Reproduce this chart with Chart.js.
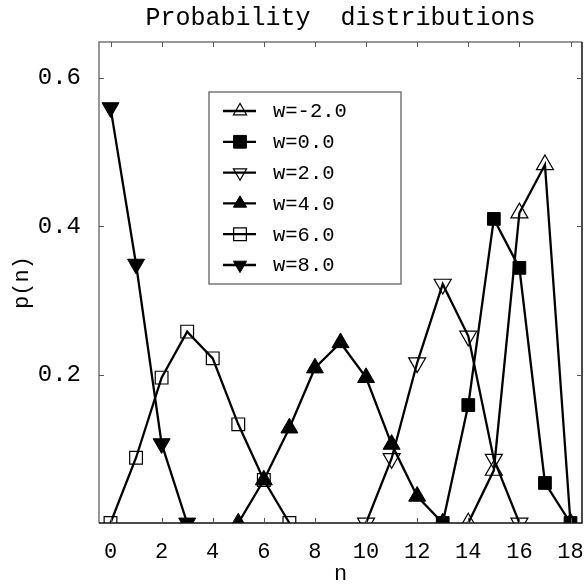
<!DOCTYPE html>
<html lang="en">
<head>
<meta charset="UTF-8">
<title>Probability distributions</title>
<script src="https://cdn.jsdelivr.net/npm/chart.js"></script>
<style>
  body { margin: 0; background: #fff; }
  canvas { display: block; }
</style>
</head>
<body>
<canvas id="grafico" width="584" height="585"></canvas>
<script>
// n = 0..18, null where a series has no point
const nValues = [0, 1, 2, 3, 4, 5, 6, 7, 8, 9, 10, 11, 12, 13, 14, 15, 16, 17, 18];
const seriesLabels = ['w=-2.0', 'w=0.0', 'w=2.0', 'w=4.0', 'w=6.0', 'w=8.0'];

const pWm2 = [null, null, null, null, null, null, null, null, null, null, null, null, null, null, 0, 0.071, 0.418, 0.483, 0];
const pW0  = [null, null, null, null, null, null, null, null, null, null, null, null, null, 0, 0.159, 0.41, 0.344, 0.054, 0];
const pW2  = [null, null, null, null, null, null, null, null, null, null, 0, 0.087, 0.216, 0.322, 0.252, 0.086, 0, null, null];
const pW4  = [null, null, null, null, null, 0, 0.058, 0.128, 0.209, 0.243, 0.196, 0.106, 0.036, 0, null, null, null, null, null];
const pW6  = [0, 0.088, 0.196, 0.258, 0.222, 0.133, 0.058, 0, null, null, null, null, null, null, null, null, null, null, null];
const pW8  = [0.56, 0.349, 0.107, 0, null, null, null, null, null, null, null, null, null, null, null, null, null, null, null];

const xTickValues = [0, 2, 4, 6, 8, 10, 12, 14, 16, 18];
const yTickValues = [0.2, 0.4, 0.6];

const fonte = "'Liberation Mono', 'DejaVu Sans Mono', monospace";

// marker styles: [pointStyle, rotation, filled, radius, legend radius]
const marcadores = [
    ['triangle', 0, false, 9.8, 7.6],
    ['rect', 0, true, 9, 9],
    ['triangle', 180, false, 9.8, 7.6],
    ['triangle', 0, true, 9.8, 7.6],
    ['rect', 0, false, 9, 9],
    ['triangle', 180, true, 9.8, 7.6]
];
const valores = [pWm2, pW0, pW2, pW4, pW6, pW8];

const datasets = valores.map(function (dados, i) {
    const m = marcadores[i];
    const pontos = [];
    dados.forEach(function (v, k) {
        if (v !== null) pontos.push({ x: nValues[k], y: v });
    });
    return {
        label: seriesLabels[i],
        data: pontos,
        borderColor: '#000',
        borderWidth: 2.3,
        tension: 0,
        pointStyle: m[0],
        pointRotation: m[1],
        pointRadius: m[3],
        pointBackgroundColor: m[2] ? '#000' : 'rgba(0,0,0,0)',
        pointBorderColor: '#000',
        pointBorderWidth: m[2] ? 1 : 1.2
    };
});

// frame with inward ticks on all four sides
const moldura = {
    id: 'moldura',
    afterDraw(chart) {
        const ctx = chart.ctx;
        const a = chart.chartArea;
        const xs = chart.scales.x;
        const ys = chart.scales.y;
        ctx.save();
        ctx.lineWidth = 1.5;
        ctx.strokeStyle = '#777';
        ctx.beginPath();
        ctx.moveTo(a.left, a.bottom); ctx.lineTo(a.left, a.top); ctx.lineTo(a.right, a.top);
        ctx.stroke();
        ctx.strokeStyle = '#111';
        ctx.beginPath();
        ctx.moveTo(a.left, a.bottom); ctx.lineTo(a.right, a.bottom); ctx.lineTo(a.right, a.top);
        ctx.stroke();
        ctx.lineWidth = 1;
        ctx.strokeStyle = '#555';
        ctx.beginPath();
        xTickValues.forEach(function (v) {
            const px = Math.round(xs.getPixelForValue(v)) + 0.5;
            ctx.moveTo(px, a.bottom); ctx.lineTo(px, a.bottom - 5);
            ctx.moveTo(px, a.top); ctx.lineTo(px, a.top + 5);
        });
        yTickValues.forEach(function (v) {
            const py = Math.round(ys.getPixelForValue(v)) + 0.5;
            ctx.moveTo(a.left, py); ctx.lineTo(a.left + 5, py);
            ctx.moveTo(a.right, py); ctx.lineTo(a.right - 5, py);
        });
        ctx.stroke();
        ctx.restore();
    }
};

// legend box inside the plot
const legenda = {
    id: 'legenda',
    afterDraw(chart) {
        const ctx = chart.ctx;
        ctx.save();
        ctx.strokeStyle = '#777';
        ctx.lineWidth = 1.5;
        ctx.fillStyle = '#fff';
        ctx.fillRect(209, 92, 192, 192);
        ctx.strokeRect(209, 92, 192, 192);
        ctx.font = '20.5px ' + fonte;
        ctx.textBaseline = 'middle';
        ctx.textAlign = 'left';
        seriesLabels.forEach(function (txt, i) {
            const y = 111 + i * 30.8;
            const m = marcadores[i];
            ctx.strokeStyle = '#000';
            ctx.lineWidth = 2.3;
            ctx.beginPath();
            ctx.moveTo(223, y); ctx.lineTo(256, y);
            ctx.stroke();
            ctx.fillStyle = m[2] ? '#000' : 'rgba(0,0,0,0)';
            ctx.lineWidth = m[2] ? 1 : 1.2;
            if (Chart.helpers && Chart.helpers.drawPoint) {
                Chart.helpers.drawPoint(ctx, {
                    pointStyle: m[0], rotation: m[1], radius: m[4], borderWidth: ctx.lineWidth
                }, 240, y);
            }
            ctx.fillStyle = '#000';
            ctx.fillText(txt, 273, y + 1);
        });
        ctx.restore();
    }
};

new Chart(document.getElementById('grafico'), {
    type: 'line',
    data: { datasets: datasets },
    plugins: [moldura, legenda],
    options: {
        responsive: false,
        animation: false,
        devicePixelRatio: 1,
        layout: { autoPadding: false, padding: { left: 0, right: 2, top: 0, bottom: 0 } },
        plugins: {
            legend: { display: false },
            tooltip: { enabled: false },
            title: {
                display: true,
                text: 'Probability  distributions',
                color: '#000',
                fullSize: false,
                font: { family: fonte, size: 25, weight: 'normal', lineHeight: 1 },
                padding: { top: 6, bottom: 11 }
            }
        },
        scales: {
            x: {
                type: 'linear',
                min: -0.45,
                max: 18.45,
                grid: { display: false },
                border: { display: false },
                afterFit(scale) {
                    scale.height = 62;
                    scale.paddingLeft = 0;
                    scale.paddingRight = 0;
                },
                ticks: {
                    stepSize: 2,
                    includeBounds: false,
                    color: '#000',
                    padding: 10,
                    maxRotation: 0,
                    font: { family: fonte, size: 22, lineHeight: 1 },
                    callback: function (v) { return xTickValues.includes(v) ? String(v) : ''; }
                },
                title: {
                    display: true,
                    text: 'n',
                    color: '#000',
                    font: { family: fonte, size: 22, lineHeight: 1 },
                    padding: { top: 0, bottom: 0 }
                }
            },
            y: {
                min: 0,
                max: 0.6485,
                grid: { display: false },
                border: { display: false },
                afterFit(scale) {
                    scale.width = 99;
                    scale.paddingTop = 0;
                    scale.paddingBottom = 0;
                },
                ticks: {
                    stepSize: 0.2,
                    includeBounds: false,
                    color: '#000',
                    padding: 10,
                    font: { family: fonte, size: 24, lineHeight: 1 },
                    callback: function (v) {
                        const r = Math.round(v * 10) / 10;
                        return yTickValues.includes(r) ? r.toFixed(1) : '';
                    }
                },
                title: {
                    display: true,
                    text: 'p(n)',
                    color: '#000',
                    font: { family: fonte, size: 22, lineHeight: 1 },
                    padding: { top: 11, bottom: 0 }
                }
            }
        }
    }
});
</script>
</body>
</html>
